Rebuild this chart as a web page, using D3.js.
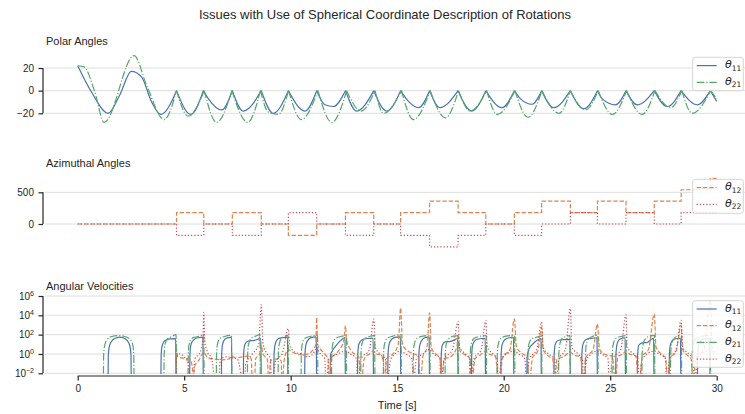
<!DOCTYPE html>
<html>
<head>
<meta charset="utf-8">
<script src="https://cdn.jsdelivr.net/npm/d3@7"></script>
<style>
  body { margin: 0; background: #fff; }
  svg { display: block; font-family: "Liberation Sans", Arial, sans-serif; }
</style>
</head>
<body>
<div id="chart"></div>
<script>
// polar angles [t, deg]
var theta11 = [[0,22],[0.64,-1],[1.43,-20],[1.97,-4],[2.52,17],[3.0,12],[3.46,-9.5],[3.9,-21],[4.64,0],[5.31,-21],[5.9,0],[6.13,-7],[6.76,-17],[7.26,0],[7.77,-18],[8.62,0],[9.18,-20],[9.89,0],[10.67,-18],[11.22,0],[11.61,-12.5],[12.0,-14],[12.57,0],[13.1,-18],[13.9,0],[14.51,-18],[15.16,0],[15.53,-9.5],[16.0,-15],[16.52,0],[17.0,-15],[17.86,0],[18.5,-18],[19.16,0],[19.92,-15],[20.5,0],[20.78,-7],[21.33,-12],[21.78,0],[22.35,-15],[23.13,0],[23.76,-16],[24.4,0],[24.62,-7],[25.25,-12.5],[25.74,0],[26.27,-12.5],[27.07,0],[27.68,-14],[28.33,0],[29.09,-12.5],[29.7,0],[30.0,-9.5]]
var theta21 = [[0,22],[0.3,21],[0.8,-1],[1.24,-28],[2.65,31],[3.23,5],[4.06,-25.5],[4.64,0],[5.19,-22.6],[5.94,0],[6.52,-28],[7.24,0],[7.98,-28],[8.58,0],[8.95,-19],[9.42,-21],[9.9,0],[10.5,-25.5],[11.28,0],[11.93,-28],[12.63,0],[13.3,-18],[13.96,0],[14.36,-20],[15.2,0],[15.76,-25.5],[16.55,0],[17.26,-24],[17.88,0],[18.43,-18],[19.2,0],[19.7,-21],[20.53,0],[21.14,-23.5],[21.8,0],[22.59,-20],[23.13,0],[23.84,-17],[24.44,0],[25.1,-21],[25.77,0],[26.5,-21],[27.1,0],[27.84,-15],[28.36,0],[28.85,-20],[29.72,0],[30.0,-7]]

// azimuthal angles, steps at the switch times
var azTimes = [0,4.64,5.92,7.26,8.62,9.89,11.22,12.57,13.9,15.16,16.52,17.86,19.16,20.5,21.78,23.13,24.4,25.74,27.07,28.33,29.7,30]
var theta12 = [0,180,0,180,0,-180,0,180,0,180,360,180,0,180,360,180,360,180,360,540,720,720]
var theta22 = [0,-180,0,-180,0,180,0,-180,0,-180,-360,-180,0,-180,0,180,0,180,0,180,180,180]

// angular velocities [t, |deg/s|], 0 = off the log axis
var omega11 = [[0,0],[1.42,0],[1.44,1],[1.5,8],[1.62,25],[1.8,45],[1.97,55],[2.15,45],[2.32,25],[2.44,8],[2.5,1],[2.52,0],
  [3.9,0],[3.92,1],[3.97,8],[4.1,25],[4.35,36],[4.6,38],[4.62,0],
  [5.25,0],[5.27,1],[5.32,10],[5.45,30],[5.65,48],[5.88,55],[5.9,0],
  [6.74,0],[6.76,1],[6.8,10],[6.92,35],[7.1,50],[7.22,55],[7.24,0],
  [7.77,0],[7.79,1],[7.85,10],[8.0,22],[8.3,26],[8.55,38],[8.6,40],[8.62,0],
  [9.2,0],[9.22,1],[9.27,10],[9.4,35],[9.65,50],[9.85,55],[9.87,0],
  [10.65,0],[10.67,1],[10.72,10],[10.85,35],[11.05,55],[11.2,60],[11.22,0],
  [11.85,0],[11.87,0.8],[11.95,2],[12.1,6],[12.3,20],[12.5,45],[12.55,50],[12.57,0],
  [13.13,0],[13.15,1],[13.2,10],[13.35,30],[13.6,40],[13.87,42],[13.89,0],
  [14.55,0],[14.57,1],[14.62,10],[14.75,35],[14.95,55],[15.15,60],[15.17,0],
  [16.0,0],[16.02,1],[16.07,10],[16.2,35],[16.35,52],[16.5,58],[16.52,0],
  [17.05,0],[17.07,1],[17.12,8],[17.25,18],[17.5,20],[17.7,30],[17.84,40],[17.86,0],
  [18.48,0],[18.5,1],[18.55,10],[18.7,30],[18.95,40],[19.13,42],[19.15,0],
  [19.86,0],[19.88,1],[19.93,10],[20.05,30],[20.25,48],[20.46,52],[20.48,0],
  [21.08,0],[21.1,0.5],[21.18,3],[21.35,10],[21.55,25],[21.75,40],[21.77,0],
  [22.35,0],[22.37,1],[22.42,10],[22.55,25],[22.8,30],[23.11,32],[23.13,0],
  [23.65,0],[23.67,1],[23.72,10],[23.85,30],[24.1,42],[24.38,48],[24.4,0],
  [25.25,0],[25.27,1],[25.32,10],[25.42,30],[25.55,42],[25.7,48],[25.72,0],
  [26.27,0],[26.29,1],[26.34,8],[26.5,14],[26.75,16],[26.9,30],[27.04,42],[27.06,0],
  [27.76,0],[27.78,1],[27.83,10],[27.95,30],[28.15,40],[28.3,42],[28.32,0],
  [29.09,0],[29.11,1],[29.16,10],[29.3,30],[29.5,40],[29.67,42],[29.69,0],[30,0]]
var omega12 = [[0,0],[4.62,0],[4.64,3],[4.7,0.5],[5.0,0.35],[5.25,0.3],[5.38,0.05],[5.42,0],[5.48,0.05],[5.7,0.25],[5.92,1.5],[6.1,0.4],[6.4,0.3],[6.8,0.25],[7.1,0.3],[7.26,0.6],[7.4,0.4],[7.7,0.5],[8.0,0.6],[8.15,0.3],[8.2,0],[8.3,0],[8.35,0.3],[8.55,1.2],[8.62,8],[8.7,1],[8.9,0.3],[8.98,0],[9.05,0.2],[9.3,0.3],[9.55,0.2],[9.6,0],[9.7,0.3],[9.89,3],[10.0,2],[10.3,1],[10.6,0.8],[10.8,1],[11.0,2],[11.18,10],[11.22,6000],[11.26,10],[11.4,3],[11.6,1],[11.75,0.3],[11.8,0],[11.9,0.3],[12.1,1],[12.3,3],[12.5,30],[12.57,900],[12.62,30],[12.8,3],[13.0,1],[13.2,0.5],[13.3,0],[13.45,0.3],[13.7,1],[13.9,2],[14.0,1],[14.2,0.8],[14.35,0.2],[14.4,0],[14.5,0.3],[14.8,1],[15.05,10],[15.16,56000],[15.25,10],[15.5,2],[15.8,1],[16.0,0.5],[16.1,0],[16.2,0.5],[16.4,5],[16.52,18000],[16.6,5],[16.8,1],[17.0,0.5],[17.1,0],[17.2,0.3],[17.5,0.5],[17.8,5],[17.86,100],[17.95,2],[18.2,0.8],[18.4,0.4],[18.5,0],[18.65,0.3],[18.9,0.8],[19.16,2],[19.3,1],[19.6,0.6],[19.8,0],[19.95,0.5],[20.3,3],[20.5,4400],[20.6,5],[20.9,1],[21.1,0.4],[21.2,0],[21.35,0.4],[21.6,2],[21.78,600],[21.85,3],[22.1,0.6],[22.3,0.3],[22.4,0],[22.5,0.3],[22.8,0.5],[23.13,1.5],[23.3,0.8],[23.6,0.5],[23.75,0],[23.85,0.4],[24.2,3],[24.4,1300],[24.5,3],[24.8,0.8],[25.1,0.6],[25.25,0],[25.35,0.5],[25.6,1],[25.74,2],[25.9,1],[26.2,0.6],[26.35,0],[26.5,0.5],[26.8,3],[27.07,14000],[27.15,5],[27.4,1],[27.6,0.4],[27.7,0],[27.8,0.3],[28.1,2],[28.33,1000],[28.4,3],[28.6,0.8],[28.8,0.3],[28.9,0],[29.0,0.3],[29.4,3],[29.7,400000],[29.78,5],[29.9,0.5],[30,0.3]]
var omega21 = [[0,0],[1.2,0],[1.22,1],[1.28,10],[1.4,35],[1.6,65],[1.9,80],[2.2,65],[2.45,35],[2.58,10],[2.63,1],[2.65,0],
  [4.04,0],[4.06,1],[4.1,10],[4.2,35],[4.4,60],[4.62,100],[4.64,0],
  [5.17,0],[5.19,1],[5.23,10],[5.35,40],[5.6,60],[5.92,95],[5.94,0],
  [6.5,0],[6.52,1],[6.56,10],[6.68,40],[6.9,65],[7.22,85],[7.24,0],
  [7.96,0],[7.98,1],[8.02,10],[8.14,40],[8.35,70],[8.56,100],[8.58,0],
  [9.4,0],[9.42,1],[9.46,10],[9.56,40],[9.72,65],[9.88,85],[9.9,0],
  [10.48,0],[10.5,1],[10.54,10],[10.66,40],[10.9,65],[11.26,85],[11.28,0],
  [11.91,0],[11.93,1],[11.97,10],[12.1,40],[12.35,65],[12.61,80],[12.63,0],
  [13.28,0],[13.3,1],[13.34,10],[13.46,40],[13.7,65],[13.94,80],[13.96,0],
  [14.34,0],[14.36,1],[14.4,10],[14.52,40],[14.8,70],[15.18,100],[15.2,0],
  [15.74,0],[15.76,1],[15.8,10],[15.92,40],[16.2,70],[16.53,80],[16.55,0],
  [17.24,0],[17.26,1],[17.3,10],[17.42,40],[17.65,70],[17.86,80],[17.88,0],
  [18.41,0],[18.43,1],[18.47,10],[18.6,40],[18.85,65],[19.18,80],[19.2,0],
  [19.68,0],[19.7,1],[19.74,10],[19.86,40],[20.1,70],[20.51,85],[20.53,0],
  [21.12,0],[21.14,1],[21.18,10],[21.3,35],[21.55,55],[21.78,75],[21.8,0],
  [22.57,0],[22.59,1],[22.63,10],[22.74,40],[22.92,65],[23.11,80],[23.13,0],
  [23.82,0],[23.84,1],[23.88,10],[24.0,40],[24.2,70],[24.42,90],[24.44,0],
  [25.08,0],[25.1,1],[25.14,10],[25.26,40],[25.5,65],[25.75,80],[25.77,0],
  [26.48,0],[26.5,1],[26.54,10],[26.66,40],[26.85,70],[27.08,85],[27.1,0],
  [27.82,0],[27.84,1],[27.88,10],[28.0,40],[28.15,70],[28.34,90],[28.36,0],
  [28.83,0],[28.85,1],[28.89,10],[29.02,40],[29.3,65],[29.7,85],[29.72,0],[30,0]]
var omega22 = [[0,0],[4.62,0],[4.64,0.5],[4.8,1],[5.0,0.5],[5.2,0.1],[5.25,0],[5.4,0],[5.5,0.3],[5.75,1.5],[5.88,30],[5.92,20000],[5.96,30],[6.1,1.5],[6.3,0.3],[6.45,0],[6.6,0],[6.7,0.3],[7.0,0.5],[7.26,0.4],[7.5,0.3],[7.8,0],[7.9,0.1],[8.2,1],[8.5,10],[8.62,126000],[8.7,10],[8.9,1],[9.05,0.3],[9.1,0],[9.3,0.2],[9.6,1],[9.89,400],[9.95,10],[10.2,1.5],[10.5,1],[10.8,0.5],[11.0,0.8],[11.22,3],[11.4,1],[11.6,0.3],[11.65,0],[11.8,0.3],[12.2,1],[12.57,2],[12.8,1],[13.1,0.3],[13.15,0],[13.3,0.3],[13.7,3],[13.9,4000],[13.97,5],[14.2,1],[14.45,0.3],[14.5,0],[14.7,0.3],[15.16,2],[15.4,1],[15.7,0.3],[15.75,0],[15.9,0.3],[16.2,1],[16.52,3],[16.7,1],[17.0,0.4],[17.05,0],[17.2,0.3],[17.6,3],[17.86,2300],[17.93,5],[18.2,1],[18.4,0.3],[18.45,0],[18.6,0.3],[18.95,3],[19.16,3000],[19.23,5],[19.5,1],[19.7,0.3],[19.75,0],[19.9,0.3],[20.5,2],[20.7,1],[21.0,0.3],[21.05,0],[21.2,0.3],[21.55,3],[21.78,2000],[21.85,5],[22.1,1],[22.4,0.3],[22.45,0],[22.6,0.3],[22.9,3],[23.13,50000],[23.2,5],[23.5,1],[23.7,0.3],[23.75,0],[23.9,0.3],[24.4,2],[24.6,1],[24.9,0.3],[24.95,0],[25.1,0.3],[25.5,3],[25.74,11000],[25.8,5],[26.1,1],[26.3,0.3],[26.35,0],[26.5,0.3],[27.07,2],[27.3,1],[27.6,0.3],[27.65,0],[27.8,0.3],[28.1,3],[28.33,3000],[28.4,5],[28.7,1],[28.9,0.3],[28.95,0],[29.1,0.3],[29.5,2],[29.7,3],[30,1]]

var xTicks = [0, 5, 10, 15, 20, 25, 30]
var polarTicks = [20, 0, -20]
var azTicks = [500, 0]
var velTicks = [1e6, 1e4, 1e2, 1, 1e-2]

var width = 745, height = 414
var color = { b: '#4C72B0', o: '#DD8452', g: '#55A868', r: '#C44E52' }
var dash = { solid: null, dashed: '4.4,1.9', dashdot: '7.7,1.9,1.2,1.9', dotted: '1.2,2' }
var gridLeft = 45, gridRight = 745

var svg = d3.select('#chart').append('svg')
    .attr('width', width)
    .attr('height', height)

svg.append('rect').attr('width', width).attr('height', height).attr('fill', '#fff')

var x = d3.scaleLinear().domain([-1.5, 31.5]).range([45.75, 748.65])

var yPolar = d3.scaleLinear().domain([-20, 20]).range([113.3, 68])
var yAz = d3.scaleLinear().domain([0, 500]).range([224, 192.3])
var yVel = d3.scaleLog().domain([1e-2, 1e6]).range([373.3, 296])

svg.append('text')
    .attr('x', 385).attr('y', 18.5)
    .attr('text-anchor', 'middle')
    .attr('font-size', 13)
    .attr('fill', '#262626')
    .text('Issues with Use of Spherical Coordinate Description of Rotations')

function panel(name, title, titleY, yScale, ticks, top, bottom) {
    var g = svg.append('g').attr('class', name)
    g.append('clipPath').attr('id', 'clip-' + name)
        .append('rect').attr('x', gridLeft).attr('y', top)
        .attr('width', gridRight - gridLeft).attr('height', bottom - top)
    g.append('text')
        .attr('x', 46).attr('y', titleY)
        .attr('font-size', 11).attr('fill', '#262626')
        .text(title)
    // horizontal grid
    g.selectAll('.grid').data(ticks).enter().append('line')
        .attr('x1', gridLeft).attr('x2', gridRight)
        .attr('y1', function (d) { return yScale(d) }).attr('y2', function (d) { return yScale(d) })
        .attr('stroke', '#dedede').attr('stroke-width', 1)
    var ax = g.append('g').attr('transform', 'translate(43,0)')
        .call(d3.axisLeft(yScale).tickValues(ticks).tickSize(4.5).tickPadding(4.5)
            .tickFormat(function (d) { return d < 0 ? '\u2212' + Math.abs(d) : d }))
    ax.select('.domain').remove()
    ax.selectAll('text').attr('font-size', 10).attr('fill', '#262626')
        .attr('font-family', '"Liberation Sans", Arial, sans-serif')
    ax.selectAll('line').attr('stroke', '#262626').attr('stroke-width', 1.2)
    ax.append('line')
        .attr('y1', yScale(d3.max(ticks))).attr('y2', yScale(d3.min(ticks)))
        .attr('stroke', '#262626').attr('stroke-width', 1.2)
    var plot = g.append('g').attr('clip-path', 'url(#clip-' + name + ')')
    return { g: g, ax: ax, plot: plot }
}

function legend(g, top, height, items) {
    var lg = g.append('g')
    lg.append('rect')
        .attr('x', 692.7).attr('y', top).attr('width', 50.6).attr('height', height)
        .attr('rx', 2.5)
        .attr('fill', '#fff').attr('fill-opacity', 0.85)
        .attr('stroke', '#d0d0d0').attr('stroke-width', 0.9)
    items.forEach(function (it, i) {
        var cy = top + 8.3 + i * 16.7
        lg.append('line')
            .attr('x1', 696.7).attr('x2', 716.7).attr('y1', cy).attr('y2', cy)
            .attr('stroke', it.color).attr('stroke-width', 1.2)
            .attr('stroke-dasharray', it.dash)
        var t = lg.append('text')
            .attr('x', 725).attr('y', cy + 2.5)
            .attr('font-size', 11).attr('fill', '#262626')
            .attr('font-family', '"DejaVu Sans", sans-serif')
        t.append('tspan').attr('font-style', 'italic').text('\u03b8')
        t.append('tspan').attr('font-size', 7.5).attr('dy', 2.5).text(it.sub)
    })
}

// split a polar series at its cusps so each arc is smoothed on its own
function cuspSegments(data) {
    var segs = [], cur = [data[0]]
    for (var i = 1; i < data.length; i++) {
        cur.push(data[i])
        if (data[i][1] === 0 && i < data.length - 1) {
            segs.push(cur)
            cur = [data[i]]
        }
    }
    segs.push(cur)
    return segs
}

// ---- Polar Angles
var p1 = panel('polar', 'Polar Angles', 45.3, yPolar, polarTicks, 50, 130)
var polarLine = d3.line()
    .x(function (d) { return x(d[0]) })
    .y(function (d) { return yPolar(d[1]) })
    .curve(d3.curveMonotoneX)
;[[theta11, color.b, dash.solid], [theta21, color.g, dash.dashdot]].forEach(function (s) {
    p1.plot.selectAll(null).data(cuspSegments(s[0])).enter().append('path')
        .attr('d', polarLine)
        .attr('fill', 'none')
        .attr('stroke', s[1]).attr('stroke-width', 1.2)
        .attr('stroke-dasharray', s[2])
})
legend(p1.g, 57.3, 33.4, [
    { color: color.b, dash: dash.solid, sub: '11' },
    { color: color.g, dash: dash.dashdot, sub: '21' }])

// ---- Azimuthal Angles
var p2 = panel('az', 'Azimuthal Angles', 167.3, yAz, azTicks, 170, 256)
var azLine = d3.line()
    .x(function (d, i) { return x(azTimes[i]) })
    .y(function (d) { return yAz(d) })
    .curve(d3.curveStepAfter)
;[[theta12, color.o, dash.dashed], [theta22, color.r, dash.dotted]].forEach(function (s) {
    p2.plot.append('path')
        .attr('d', azLine(s[0]))
        .attr('fill', 'none')
        .attr('stroke', s[1]).attr('stroke-width', 1.2)
        .attr('stroke-dasharray', s[2])
})
legend(p2.g, 179.3, 34, [
    { color: color.o, dash: dash.dashed, sub: '12' },
    { color: color.r, dash: dash.dotted, sub: '22' }])

// ---- Angular Velocities
var p3 = panel('vel', 'Angular Velocities', 289.7, yVel, velTicks, 288, 374)
p3.ax.selectAll('.tick text').each(function (d) {
    var e = Math.round(Math.log10(d))
    var t = d3.select(this).text('10')
    t.append('tspan').attr('font-size', 7).attr('dy', '-0.55em')
        .text(e < 0 ? '\u2212' + Math.abs(e) : e)
})
var velLine = d3.line()
    .x(function (d) { return x(d[0]) })
    .y(function (d) { return d[1] > 0 ? yVel(d[1]) : 386 })
    .curve(d3.curveMonotoneX)
;[[omega11, color.b, dash.solid], [omega12, color.o, dash.dashed],
  [omega21, color.g, dash.dashdot], [omega22, color.r, dash.dotted]].forEach(function (s) {
    p3.plot.append('path')
        .attr('d', velLine(s[0]))
        .attr('fill', 'none')
        .attr('stroke', s[1]).attr('stroke-width', 1.2)
        .attr('stroke-dasharray', s[2])
})
legend(p3.g, 300.7, 66.6, [
    { color: color.b, dash: dash.solid, sub: '11' },
    { color: color.o, dash: dash.dashed, sub: '12' },
    { color: color.g, dash: dash.dashdot, sub: '21' },
    { color: color.r, dash: dash.dotted, sub: '22' }])

// ---- shared time axis
var xa = svg.append('g').attr('transform', 'translate(0,376)')
    .call(d3.axisBottom(x).tickValues(xTicks).tickSize(4.5).tickPadding(4))
xa.select('.domain').remove()
xa.append('line').attr('x1', x(0)).attr('x2', x(30))
    .attr('stroke', '#262626').attr('stroke-width', 1.2)
xa.selectAll('line').attr('stroke', '#262626').attr('stroke-width', 1.2)
xa.selectAll('text').attr('font-size', 10).attr('fill', '#262626')
    .attr('font-family', '"Liberation Sans", Arial, sans-serif')
svg.append('text')
    .attr('x', x(15)).attr('y', 408.5)
    .attr('text-anchor', 'middle')
    .attr('font-size', 11).attr('fill', '#262626')
    .text('Time [s]')
</script>
</body>
</html>
